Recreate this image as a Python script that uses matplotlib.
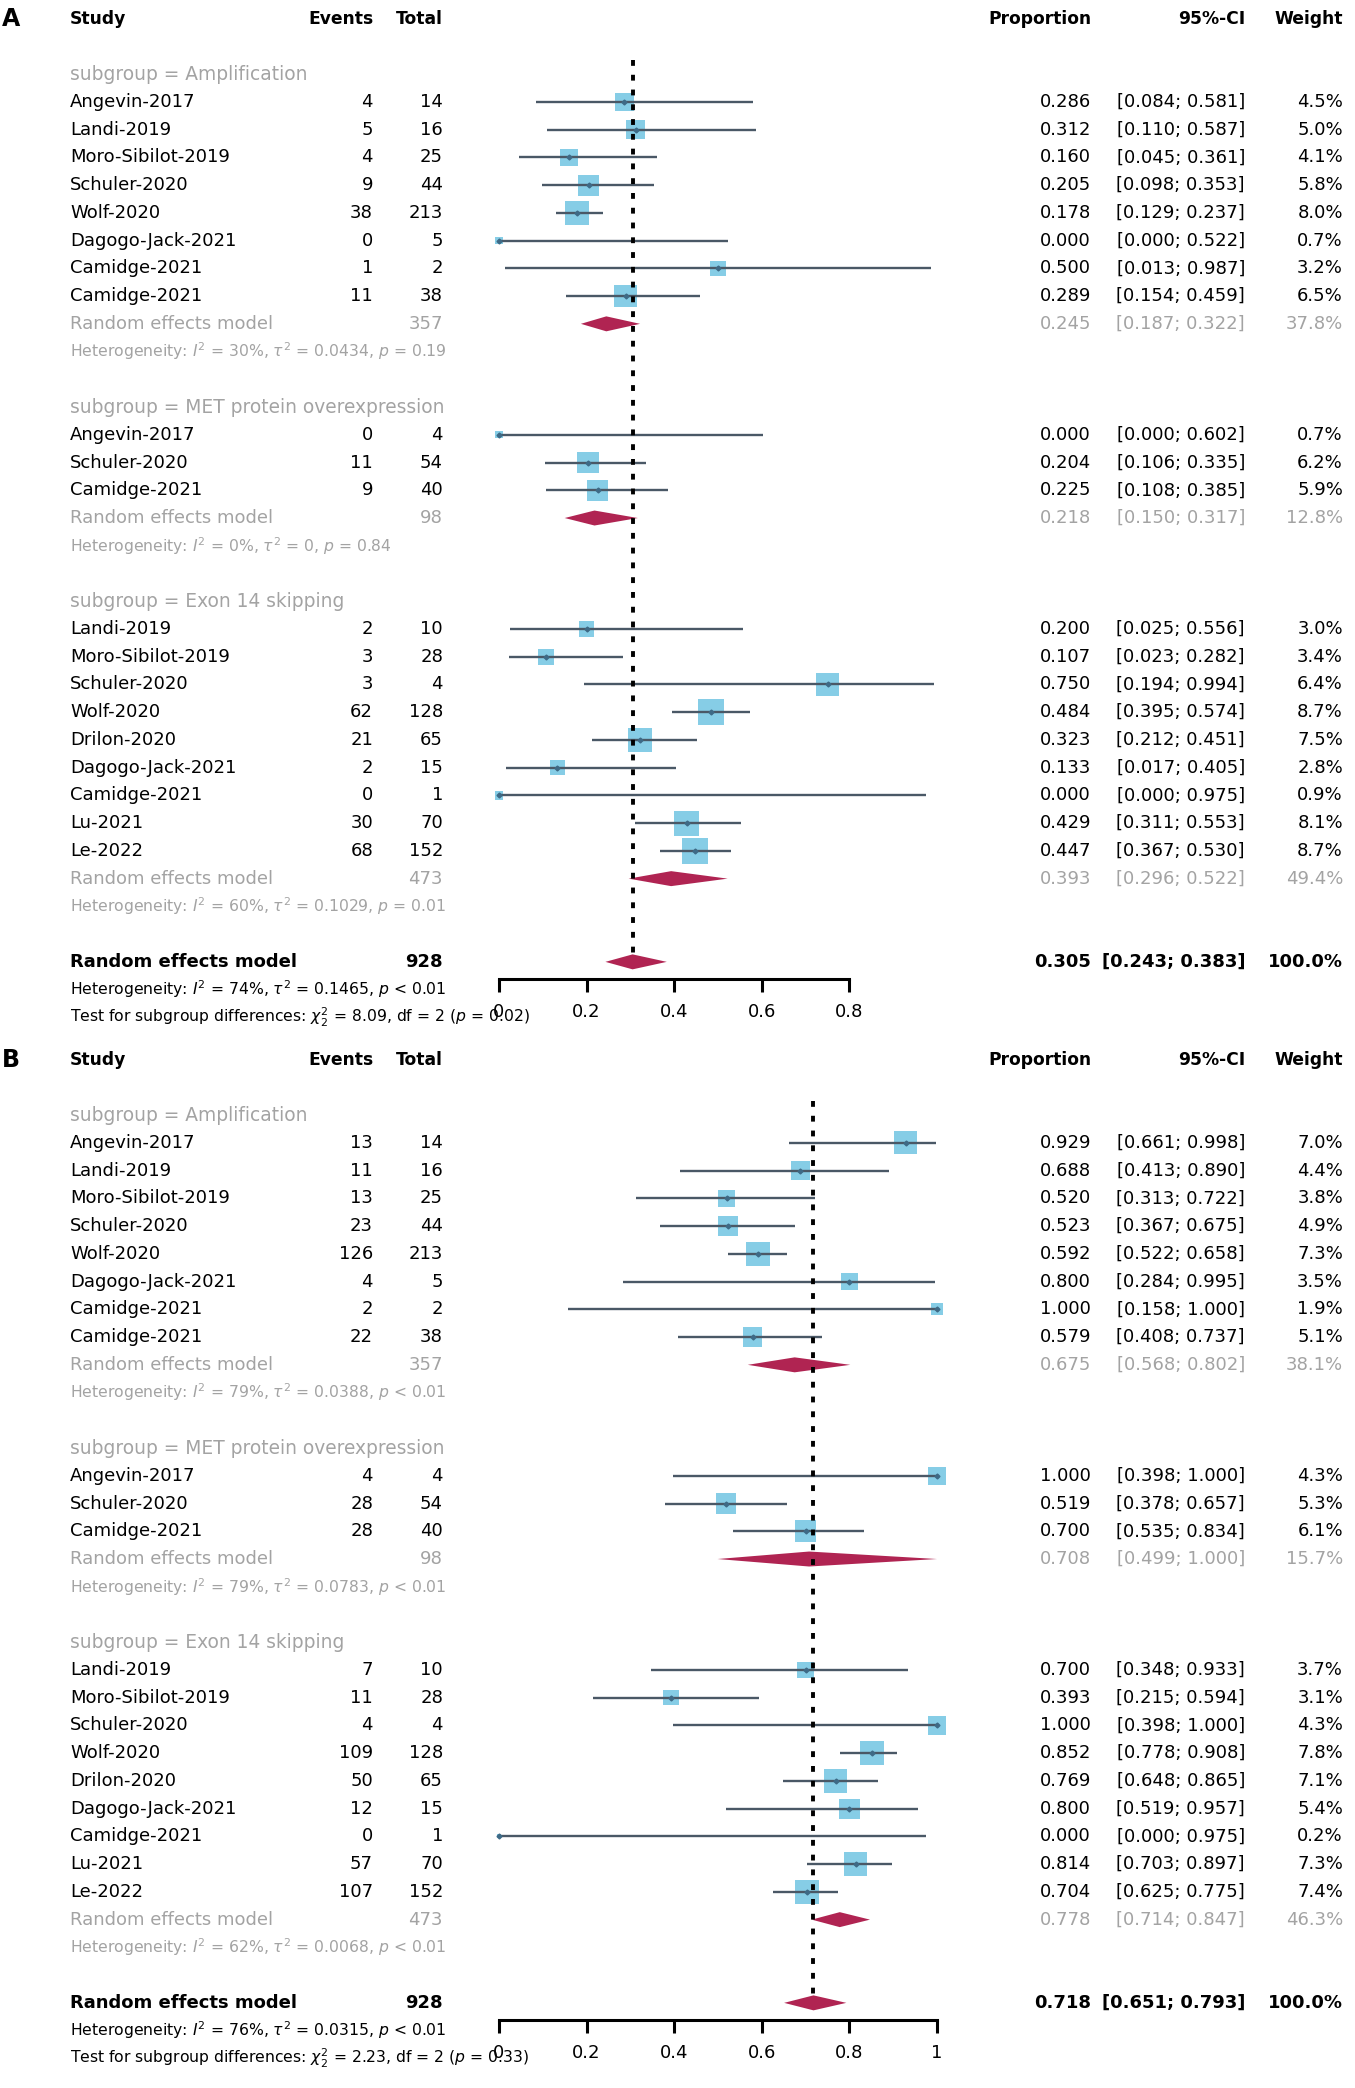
import numpy as np
import matplotlib
matplotlib.use('Agg')
import matplotlib.pyplot as plt
from matplotlib.transforms import blended_transform_factory

plt.rcParams['font.family'] = ['DejaVu Sans']
plt.rcParams['mathtext.fontset'] = 'dejavusans'

# ---- data ----
subgroups = ['Amplification', 'MET protein overexpression', 'Exon 14 skipping']
group_sizes = [8, 3, 9]
studies = ['Angevin-2017', 'Landi-2019', 'Moro-Sibilot-2019', 'Schuler-2020', 'Wolf-2020',
           'Dagogo-Jack-2021', 'Camidge-2021', 'Camidge-2021',
           'Angevin-2017', 'Schuler-2020', 'Camidge-2021',
           'Landi-2019', 'Moro-Sibilot-2019', 'Schuler-2020', 'Wolf-2020', 'Drilon-2020',
           'Dagogo-Jack-2021', 'Camidge-2021', 'Lu-2021', 'Le-2022']

# panel A
A_events = [4, 5, 4, 9, 38, 0, 1, 11, 0, 11, 9, 2, 3, 3, 62, 21, 2, 0, 30, 68]
A_total = [14, 16, 25, 44, 213, 5, 2, 38, 4, 54, 40, 10, 28, 4, 128, 65, 15, 1, 70, 152]
A_prop = [0.286, 0.312, 0.160, 0.205, 0.178, 0.000, 0.500, 0.289,
          0.000, 0.204, 0.225,
          0.200, 0.107, 0.750, 0.484, 0.323, 0.133, 0.000, 0.429, 0.447]
A_lower = [0.084, 0.110, 0.045, 0.098, 0.129, 0.000, 0.013, 0.154,
           0.000, 0.106, 0.108,
           0.025, 0.023, 0.194, 0.395, 0.212, 0.017, 0.000, 0.311, 0.367]
A_upper = [0.581, 0.587, 0.361, 0.353, 0.237, 0.522, 0.987, 0.459,
           0.602, 0.335, 0.385,
           0.556, 0.282, 0.994, 0.574, 0.451, 0.405, 0.975, 0.553, 0.530]
A_weight = [4.5, 5.0, 4.1, 5.8, 8.0, 0.7, 3.2, 6.5,
            0.7, 6.2, 5.9,
            3.0, 3.4, 6.4, 8.7, 7.5, 2.8, 0.9, 8.1, 8.7]
A_sub_total = [357, 98, 473]
A_sub_prop = [0.245, 0.218, 0.393]
A_sub_lower = [0.187, 0.150, 0.296]
A_sub_upper = [0.322, 0.317, 0.522]
A_sub_weight = [37.8, 12.8, 49.4]
A_sub_het = [r'Heterogeneity: $I^2$ = 30%, $\tau^2$ = 0.0434, $p$ = 0.19',
             r'Heterogeneity: $I^2$ = 0%, $\tau^2$ = 0, $p$ = 0.84',
             r'Heterogeneity: $I^2$ = 60%, $\tau^2$ = 0.1029, $p$ = 0.01']
A_all = [928, 0.305, 0.243, 0.383, 100.0]
A_all_het = r'Heterogeneity: $I^2$ = 74%, $\tau^2$ = 0.1465, $p$ < 0.01'
A_test = r'Test for subgroup differences: $\chi^2_2$ = 8.09, df = 2 ($p$ = 0.02)'
A_ticks = [0, 0.2, 0.4, 0.6, 0.8]
A_ticklabels = ['0', '0.2', '0.4', '0.6', '0.8']

# panel B
B_events = [13, 11, 13, 23, 126, 4, 2, 22, 4, 28, 28, 7, 11, 4, 109, 50, 12, 0, 57, 107]
B_total = [14, 16, 25, 44, 213, 5, 2, 38, 4, 54, 40, 10, 28, 4, 128, 65, 15, 1, 70, 152]
B_prop = [0.929, 0.688, 0.520, 0.523, 0.592, 0.800, 1.000, 0.579,
          1.000, 0.519, 0.700,
          0.700, 0.393, 1.000, 0.852, 0.769, 0.800, 0.000, 0.814, 0.704]
B_lower = [0.661, 0.413, 0.313, 0.367, 0.522, 0.284, 0.158, 0.408,
           0.398, 0.378, 0.535,
           0.348, 0.215, 0.398, 0.778, 0.648, 0.519, 0.000, 0.703, 0.625]
B_upper = [0.998, 0.890, 0.722, 0.675, 0.658, 0.995, 1.000, 0.737,
           1.000, 0.657, 0.834,
           0.933, 0.594, 1.000, 0.908, 0.865, 0.957, 0.975, 0.897, 0.775]
B_weight = [7.0, 4.4, 3.8, 4.9, 7.3, 3.5, 1.9, 5.1,
            4.3, 5.3, 6.1,
            3.7, 3.1, 4.3, 7.8, 7.1, 5.4, 0.2, 7.3, 7.4]
B_sub_total = [357, 98, 473]
B_sub_prop = [0.675, 0.708, 0.778]
B_sub_lower = [0.568, 0.499, 0.714]
B_sub_upper = [0.802, 1.000, 0.847]
B_sub_weight = [38.1, 15.7, 46.3]
B_sub_het = [r'Heterogeneity: $I^2$ = 79%, $\tau^2$ = 0.0388, $p$ < 0.01',
             r'Heterogeneity: $I^2$ = 79%, $\tau^2$ = 0.0783, $p$ < 0.01',
             r'Heterogeneity: $I^2$ = 62%, $\tau^2$ = 0.0068, $p$ < 0.01']
B_all = [928, 0.718, 0.651, 0.793, 100.0]
B_all_het = r'Heterogeneity: $I^2$ = 76%, $\tau^2$ = 0.0315, $p$ < 0.01'
B_test = r'Test for subgroup differences: $\chi^2_2$ = 2.23, df = 2 ($p$ = 0.33)'
B_ticks = [0, 0.2, 0.4, 0.6, 0.8, 1.0]
B_ticklabels = ['0', '0.2', '0.4', '0.6', '0.8', '1']

# ---- style / layout ----
W, H = 1355, 2088
x0_px, unit_px = 499, 438          # pixel position of 0 and width of 1 unit
row_px, first_px = 27.74, 18.7
gray = '#A3A3A3'
sq_col = '#86CDE6'
ci_col = '#4A5866'
dia_col = '#B02452'
fs, fs_sub, fs_hdr, fs_small = 13, 13.4, 12.3, 11.25

col_study = 70 / W
col_events = 373 / W
col_total = 443 / W
col_prop = 1091 / W
col_ci = 1245 / W
col_weight = 1343 / W


def draw_panel(ax, letter, events, total, prop, lower, upper, weight,
               sub_total, sub_prop, sub_lower, sub_upper, sub_weight, sub_het,
               overall, all_het, test, ticks, ticklabels, height_px):
    ax.set_xlim(-x0_px / unit_px, (W - x0_px) / unit_px)
    ax.set_ylim((height_px - first_px) / row_px, -first_px / row_px)
    tr = blended_transform_factory(ax.transAxes, ax.transData)

    # header
    ax.text(2 / W, 0, letter, transform=tr, ha='left', va='center', fontsize=17, fontweight='bold')
    hdr = dict(transform=tr, va='center', fontsize=fs_hdr, fontweight='bold')
    ax.text(col_study, 0, 'Study', ha='left', **hdr)
    ax.text(col_events, 0, 'Events', ha='right', **hdr)
    ax.text(col_total, 0, 'Total', ha='right', **hdr)
    ax.text(col_prop, 0, 'Proportion', ha='right', **hdr)
    ax.text(col_ci, 0, '95%-CI', ha='right', **hdr)
    ax.text(col_weight, 0, 'Weight', ha='right', **hdr)

    rows = []
    sub_rows = []
    r = 2
    i = 0
    for g, n in enumerate(group_sizes):
        ax.text(col_study, r, 'subgroup = ' + subgroups[g], transform=tr, ha='left',
                va='center', fontsize=fs_sub, color=gray)
        for k in range(n):
            rr = r + 1 + k
            rows.append(rr)
            kw = dict(transform=tr, va='center', fontsize=fs)
            ax.text(col_study, rr, studies[i], ha='left', **kw)
            ax.text(col_events, rr, str(events[i]), ha='right', **kw)
            ax.text(col_total, rr, str(total[i]), ha='right', **kw)
            ax.text(col_prop, rr, f'{prop[i]:.3f}', ha='right', **kw)
            ax.text(col_ci, rr, f'[{lower[i]:.3f}; {upper[i]:.3f}]', ha='right', **kw)
            ax.text(col_weight, rr, f'{weight[i]:.1f}%', ha='right', **kw)
            i += 1
        rr = r + n + 1
        sub_rows.append(rr)
        kw = dict(transform=tr, va='center', fontsize=fs, color=gray)
        ax.text(col_study, rr, 'Random effects model', ha='left', **kw)
        ax.text(col_total, rr, str(sub_total[g]), ha='right', **kw)
        ax.text(col_prop, rr, f'{sub_prop[g]:.3f}', ha='right', **kw)
        ax.text(col_ci, rr, f'[{sub_lower[g]:.3f}; {sub_upper[g]:.3f}]', ha='right', **kw)
        ax.text(col_weight, rr, f'{sub_weight[g]:.1f}%', ha='right', **kw)
        ax.text(col_study, rr + 1, sub_het[g], transform=tr, ha='left', va='center',
                fontsize=fs_small, color=gray)
        r = r + n + 4

    # overall
    ro = r
    kw = dict(transform=tr, va='center', fontsize=fs, fontweight='bold')
    ax.text(col_study, ro, 'Random effects model', ha='left', **kw)
    ax.text(col_total, ro, str(overall[0]), ha='right', **kw)
    ax.text(col_prop, ro, f'{overall[1]:.3f}', ha='right', **kw)
    ax.text(col_ci, ro, f'[{overall[2]:.3f}; {overall[3]:.3f}]', ha='right', **kw)
    ax.text(col_weight, ro, f'{overall[4]:.1f}%', ha='right', **kw)
    ax.text(col_study, ro + 1, all_het, transform=tr, ha='left', va='center', fontsize=fs_small)
    ax.text(col_study, ro + 2, test, transform=tr, ha='left', va='center', fontsize=fs_small)

    # study squares and CI lines
    sizes = (6.3 * np.sqrt(np.array(weight))) ** 2
    ax.scatter(prop, rows, marker='s', s=sizes, color=sq_col, edgecolors='none', zorder=2)
    ax.hlines(rows, lower, upper, colors=ci_col, lw=1.7, zorder=3)
    ax.plot(prop, rows, ls='none', marker='D', ms=2.5, color='#3E6A86', zorder=4)

    # diamonds
    h = 0.27
    for rr, est, lo, hi in zip(sub_rows + [ro], sub_prop + [overall[1]],
                               sub_lower + [overall[2]], sub_upper + [overall[3]]):
        ax.fill([lo, est, hi, est], [rr, rr - h, rr, rr + h], color=dia_col, lw=0, zorder=3)

    # reference line at overall estimate
    ax.vlines(overall[1], 1.5, ro - 0.3, colors='black', linestyles=(0, (1.5, 2.3)),
              lw=2.8, zorder=5)

    # x axis
    for s in ['top', 'left', 'right']:
        ax.spines[s].set_visible(False)
    ax.spines['bottom'].set_position(('data', ro + 0.62))
    ax.spines['bottom'].set_bounds(ticks[0], ticks[-1])
    ax.spines['bottom'].set_linewidth(2.2)
    ax.set_xticks(ticks)
    ax.set_xticklabels(ticklabels, fontsize=fs)
    ax.tick_params(axis='x', direction='out', length=9, width=2.2, pad=8)
    ax.set_yticks([])
    ax.patch.set_visible(False)


fig = plt.figure(figsize=(W / 100, H / 100), dpi=100)
hA = 1041
hB = H - hA
axA = fig.add_axes([0, hB / H, 1, hA / H])
axB = fig.add_axes([0, 0, 1, hB / H])

draw_panel(axA, 'A', A_events, A_total, A_prop, A_lower, A_upper, A_weight,
           A_sub_total, A_sub_prop, A_sub_lower, A_sub_upper, A_sub_weight, A_sub_het,
           A_all, A_all_het, A_test, A_ticks, A_ticklabels, hA)
draw_panel(axB, 'B', B_events, B_total, B_prop, B_lower, B_upper, B_weight,
           B_sub_total, B_sub_prop, B_sub_lower, B_sub_upper, B_sub_weight, B_sub_het,
           B_all, B_all_het, B_test, B_ticks, B_ticklabels, hB)

fig.savefig('out.png', dpi=100)
